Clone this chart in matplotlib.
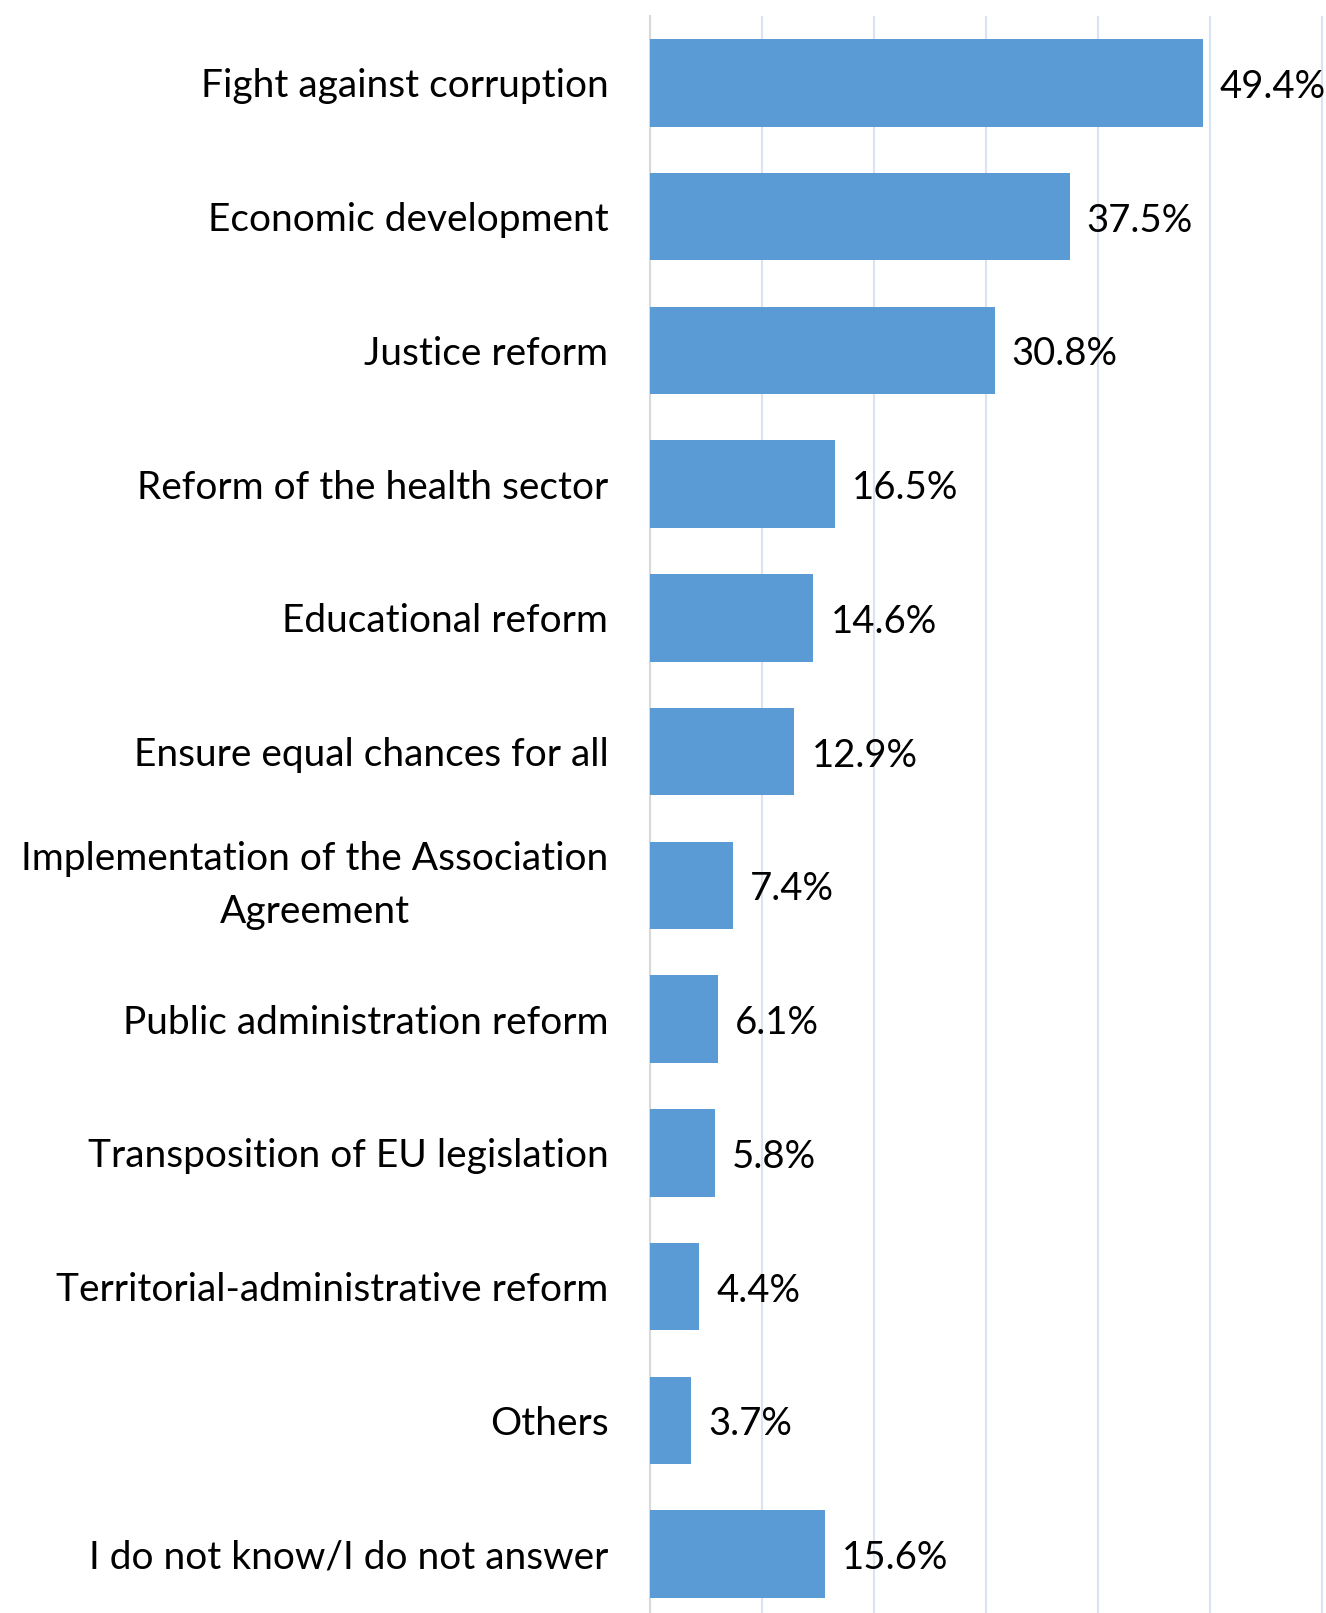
import matplotlib
matplotlib.use("Agg")
import matplotlib.pyplot as plt

# categories top to bottom and their shares (%)
categories = [
    "Fight against corruption",
    "Economic development",
    "Justice reform",
    "Reform of the health sector",
    "Educational reform",
    "Ensure equal chances for all",
    "Implementation of the Association\nAgreement",
    "Public administration reform",
    "Transposition of EU legislation",
    "Territorial-administrative reform",
    "Others",
    "I do not know/I do not answer",
]
values = [49.4, 37.5, 30.8, 16.5, 14.6, 12.9, 7.4, 6.1, 5.8, 4.4, 3.7, 15.6]
value_labels = ["49.4%", "37.5%", "30.8%", "16.5%", "14.6%", "12.9%",
                "7.4%", "6.1%", "5.8%", "4.4%", "3.7%", "15.6%"]

plt.rcParams['font.family'] = ['Lato', 'DejaVu Sans']

W, H = 1326, 1613
fig = plt.figure(figsize=(W / 100, H / 100), dpi=100)
# axes placed in pixel terms
left, right = 650, 1325
top, bottom = 16, 1621
ax = fig.add_axes([left / W, 1 - bottom / H, (right - left) / W, (bottom - top) / H])

n = len(categories)
ypos = list(range(n))
ax.barh(ypos, values, height=0.654, color="#5B9BD5", zorder=3)
ax.set_ylim(n - 0.5, -0.5)
ax.set_xlim(0, 60.3)

ax.set_xticks([0, 10, 20, 30, 40, 50, 60])
ax.xaxis.grid(True, color="#D9E4F2", linewidth=1.5, zorder=0)
ax.tick_params(axis="x", length=0, labelbottom=False)
ax.tick_params(axis="y", length=0)
ax.set_yticks(ypos)
ax.set_yticklabels(categories, fontsize=28, multialignment="center", linespacing=1.6)
ax.tick_params(axis="y", pad=30)
for lbl in ax.get_yticklabels():
    if "\n" in lbl.get_text():
        lbl.set_va("center")

for s in ["top", "right", "bottom"]:
    ax.spines[s].set_visible(False)
ax.spines["left"].set_color("#D9D9D9")
ax.spines["left"].set_linewidth(1.5)

for y, v, lab in zip(ypos, values, value_labels):
    ax.annotate(lab, (v, y), xytext=(17, -4), textcoords="offset pixels",
                ha="left", va="center", fontsize=27.5, color="black")

fig.savefig("out.png", dpi=100)
